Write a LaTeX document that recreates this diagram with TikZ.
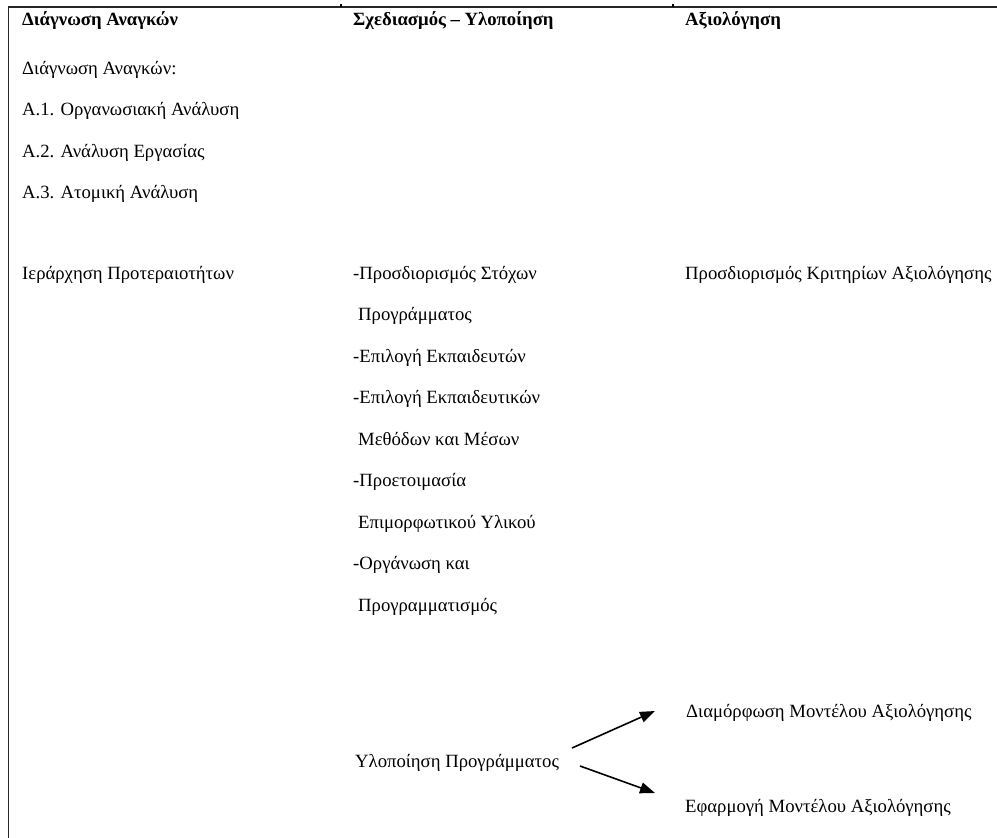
\documentclass[tikz,border=0pt]{standalone}
\usepackage{fontspec}
\setmainfont{Liberation Serif}
\usetikzlibrary{arrows.meta}
\begin{document}
\begin{tikzpicture}[x=1pt,y=-1pt,
  txt/.style={anchor=base west,inner sep=0pt,font=\fontsize{18.7}{21}\selectfont},
  hdr/.style={txt,font=\fontsize{18.7}{21}\selectfont\bfseries},
  frame/.style={line width=1.8pt,draw=black!85},
  arr/.style={line width=1.6pt,-{Triangle[length=15pt,width=11pt]}}]
\useasboundingbox (0,0) rectangle (997,838);
% frame
\coordinate (tl) at (8.5,7);
\coordinate (tr) at (997,7);
\coordinate (bl) at (8.5,838);
\draw[frame] (tr) -- (tl) -- (bl);
\coordinate (t1a) at (341,7); \coordinate (t1b) at (341,4);
\coordinate (t2a) at (673,7); \coordinate (t2b) at (673,4);
\draw[line width=1.2pt] (t1a) -- (t1b);
\draw[line width=1.2pt] (t2a) -- (t2b);
% headers
\node[hdr] (h1) at (22,25) {Διάγνωση Αναγκών};
\node[hdr] (h2) at (353,25) {Σχεδιασμός – Υλοποίηση};
\node[hdr] (h3) at (685,25) {Αξιολόγηση};
% column 1
\node[txt] (c1a) at (22,74) {Διάγνωση Αναγκών:};
\node[txt] (c1b) at (22,115.5) {Α.1. Οργανωσιακή Ανάλυση};
\node[txt] (c1c) at (22,157) {Α.2. Ανάλυση Εργασίας};
\node[txt] (c1d) at (22,198.5) {Α.3. Ατομική Ανάλυση};
\node[txt] (c1e) at (22,279) {Ιεράρχηση Προτεραιοτήτων};
% column 2
\node[txt] (c2a) at (353,279) {-Προσδιορισμός Στόχων};
\node[txt] (c2b) at (358,320.5) {Προγράμματος};
\node[txt] (c2c) at (353,362) {-Επιλογή Εκπαιδευτών};
\node[txt] (c2d) at (353,403.5) {-Επιλογή Εκπαιδευτικών};
\node[txt] (c2e) at (358,445) {Μεθόδων και Μέσων};
\node[txt] (c2f) at (353,486.5) {-Προετοιμασία};
\node[txt] (c2g) at (358,528) {Επιμορφωτικού Υλικού};
\node[txt] (c2h) at (353,569.5) {-Οργάνωση και};
\node[txt] (c2i) at (358,611) {Προγραμματισμός};
\node[txt] (impl) at (355,767) {Υλοποίηση Προγράμματος};
% column 3
\node[txt] (c3a) at (685,279) {Προσδιορισμός Κριτηρίων Αξιολόγησης};
\node[txt] (d1) at (686,717) {Διαμόρφωση Μοντέλου Αξιολόγησης};
\node[txt] (d2) at (685,812) {Εφαρμογή Μοντέλου Αξιολόγησης};
% arrows
\coordinate (u1) at (572,748);
\coordinate (u2) at (655,711);
\coordinate (l1) at (580,766);
\coordinate (l2) at (655,793);
\draw[arr] (u1) -- (u2);
\draw[arr] (l1) -- (l2);
\end{tikzpicture}
\end{document}
